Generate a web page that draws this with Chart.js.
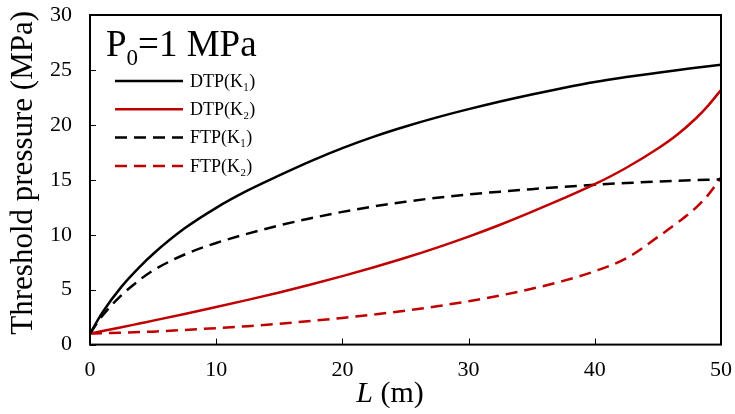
<!DOCTYPE html>
<html>
<head>
<meta charset="utf-8">
<script src="https://cdn.jsdelivr.net/npm/chart.js@4"></script>
<style>
    html, body { margin: 0; padding: 0; background: #fff; }
    #wrap { width: 735px; height: 414px; }
</style>
</head>
<body>
<div id="wrap"><canvas id="tpChart" width="735" height="414"></canvas></div>
<script>
// Length of the zone (m)
const lengths = [0, 1, 2.5, 4, 5, 7.5, 10, 12.5, 15, 17.5, 20, 22.5, 25, 27.5, 30, 32.5, 35, 37.5, 40, 42.5, 45, 46.5, 48, 49, 50];

// Threshold pressure (MPa)
const dtpK1 = [1.0, 2.95, 5.28, 7.15, 8.25, 10.58, 12.45, 14.03, 15.4, 16.7, 17.88, 18.93, 19.85, 20.68, 21.43, 22.13, 22.77, 23.36, 23.9, 24.35, 24.75, 24.98, 25.19, 25.33, 25.47];
const dtpK2 = [1.0, 1.23, 1.58, 1.94, 2.18, 2.79, 3.42, 4.07, 4.75, 5.47, 6.23, 7.04, 7.9, 8.83, 9.83, 10.91, 12.08, 13.3, 14.6, 16.1, 17.85, 19.08, 20.58, 21.78, 23.18];
const ftpK1 = [1.0, 2.65, 4.5, 5.95, 6.75, 8.2, 9.25, 10.1, 10.85, 11.5, 12.08, 12.58, 13.0, 13.37, 13.67, 13.92, 14.15, 14.36, 14.55, 14.71, 14.84, 14.91, 14.97, 15.01, 15.05];
const ftpK2 = [1.0, 1.03, 1.08, 1.14, 1.18, 1.33, 1.5, 1.68, 1.9, 2.15, 2.43, 2.74, 3.09, 3.49, 3.95, 4.47, 5.08, 5.8, 6.68, 7.85, 9.8, 11.05, 12.45, 13.65, 15.2];

const xTicks = [0, 10, 20, 30, 40, 50];
const yTicks = [0, 5, 10, 15, 20, 25, 30];

const RED = '#c00000';
const SERIF = '"Liberation Serif", "Times New Roman", serif';

function points(ys) {
    return lengths.map((x, i) => ({ x: x, y: ys[i] }));
}

function series(label, ys, color, dashed) {
    return {
        label: label,
        data: points(ys),
        borderColor: color,
        backgroundColor: color,
        borderWidth: 2.5,
        borderDash: dashed ? [12, 7] : [],
        pointRadius: 0,
        cubicInterpolationMode: 'monotone',
        fill: false
    };
}

// Frame, inward ticks, axis titles, legend and the P0 note
const frameAndLegend = {
    id: 'frameAndLegend',
    afterDatasetsDraw(chart) {
        const { ctx, chartArea: a, scales } = chart;
        ctx.save();

        // inward ticks
        ctx.strokeStyle = '#000';
        ctx.lineWidth = 1;
        ctx.beginPath();
        xTicks.forEach(v => {
            const px = Math.round(scales.x.getPixelForValue(v)) + 0.5;
            ctx.moveTo(px, a.bottom);
            ctx.lineTo(px, a.bottom - 6);
        });
        yTicks.forEach(v => {
            const py = Math.round(scales.y.getPixelForValue(v)) + 0.5;
            ctx.moveTo(a.left, py);
            ctx.lineTo(a.left + 6, py);
        });
        ctx.stroke();

        // box
        ctx.lineWidth = 2;
        ctx.strokeRect(a.left, a.top, a.right - a.left, a.bottom - a.top);

        ctx.fillStyle = '#000';
        ctx.textBaseline = 'alphabetic';

        // x title: italic L, upright unit
        ctx.font = 'italic 30px ' + SERIF;
        const wL = ctx.measureText('L').width;
        ctx.font = '30px ' + SERIF;
        const wU = ctx.measureText(' (m)').width;
        let lx = a.left + 300 - (wL + wU) / 2;
        ctx.textAlign = 'left';
        ctx.font = 'italic 30px ' + SERIF;
        ctx.fillText('L', lx, 401.5);
        ctx.font = '30px ' + SERIF;
        ctx.fillText(' (m)', lx + wL, 401.5);

        // y title
        ctx.save();
        ctx.translate(32, (a.top + a.bottom) / 2 - 7);
        ctx.rotate(-Math.PI / 2);
        ctx.textAlign = 'center';
        ctx.font = '31px ' + SERIF;
        ctx.fillText('Threshold pressure (MPa)', 0, 0);
        ctx.restore();

        // P0 = 1 MPa
        ctx.textAlign = 'left';
        let tx = a.left + 16;
        const ty = a.top + 41;
        ctx.font = '37px ' + SERIF;
        ctx.fillText('P', tx, ty);
        tx += ctx.measureText('P').width;
        ctx.font = '23px ' + SERIF;
        ctx.fillText('0', tx, ty + 9);
        tx += ctx.measureText('0').width;
        ctx.font = '37px ' + SERIF;
        ctx.fillText('=1 MPa', tx, ty);

        // legend
        const x0 = a.left + 25, x1 = a.left + 93;
        chart.data.datasets.forEach((ds, i) => {
            const y = a.top + 66 + i * 28.3;
            ctx.strokeStyle = ds.borderColor;
            ctx.lineWidth = 2.5;
            ctx.setLineDash(ds.borderDash);
            ctx.beginPath();
            ctx.moveTo(x0, y);
            ctx.lineTo(x1, y);
            ctx.stroke();
            ctx.setLineDash([]);
            ctx.fillStyle = '#000';
            ctx.font = '18px ' + SERIF;
            ctx.textBaseline = 'middle';
            ctx.fillText(ds.label, x1 + 7, y + 1);
        });
        ctx.restore();
    }
};

const chart = new Chart(document.getElementById('tpChart'), {
    type: 'line',
    data: {
        datasets: [
            series('DTP(K\u2081)', dtpK1, '#000', false),
            series('DTP(K\u2082)', dtpK2, RED, false),
            series('FTP(K\u2081)', ftpK1, '#000', true),
            series('FTP(K\u2082)', ftpK2, RED, true)
        ]
    },
    options: {
        responsive: false,
        animation: false,
        layout: { padding: { left: 32, right: 14, top: 15, bottom: 19 } },
        plugins: {
            legend: { display: false },
            tooltip: { enabled: false }
        },
        scales: {
            x: {
                type: 'linear',
                min: 0,
                max: 50,
                afterBuildTicks: s => { s.ticks = xTicks.map(v => ({ value: v })); },
                // let the end labels overhang instead of shrinking the plot
                afterFit: s => { s.paddingRight = 0; },
                grid: { display: false, drawTicks: false },
                border: { display: false },
                ticks: { color: '#000', padding: 12, font: { family: SERIF, size: 22 } }
            },
            y: {
                type: 'linear',
                min: 0,
                max: 30,
                afterBuildTicks: s => { s.ticks = yTicks.map(v => ({ value: v })); },
                afterFit: s => { s.paddingTop = 0; },
                grid: { display: false, drawTicks: false },
                border: { display: false },
                ticks: { color: '#000', padding: 18, font: { family: SERIF, size: 22 } }
            }
        }
    },
    plugins: [frameAndLegend]
});
</script>
</body>
</html>
